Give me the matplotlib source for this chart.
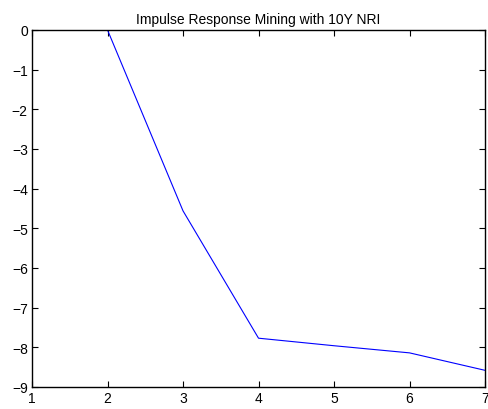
import matplotlib
matplotlib.use("Agg")
import matplotlib.pyplot as plt

x = [1, 2, 3, 4, 5, 6, 7]
y = [0, 0, -4.56, -7.77, -7.96, -8.14, -8.58]
xticks = [1, 2, 3, 4, 5, 6, 7]
yticks = [0, -1, -2, -3, -4, -5, -6, -7, -8, -9]

plt.rcParams['font.family'] = ['Liberation Sans', 'DejaVu Sans']
fig = plt.figure(figsize=(4.88, 4.10), dpi=100)
ax = fig.add_axes([0.0656, 0.0537, 0.9283, 0.8707])
ax.plot(x, y, color='#0000ff', linewidth=0.8)
ax.set_xlim(1, 7)
ax.set_ylim(-9, 0)
ax.set_xticks(xticks)
ax.set_yticks(yticks)
ax.set_yticklabels(['\u2212' + str(-v) if v < 0 else str(v) for v in yticks])
ax.tick_params(direction='in', top=True, right=True, length=4, width=0.8, labelsize=10, pad=3)
for s in ax.spines.values():
    s.set_linewidth(1.0)
ax.set_title('Impulse Response Mining with 10Y NRI', fontsize=10, pad=5)
fig.savefig('out.png', dpi=100)
